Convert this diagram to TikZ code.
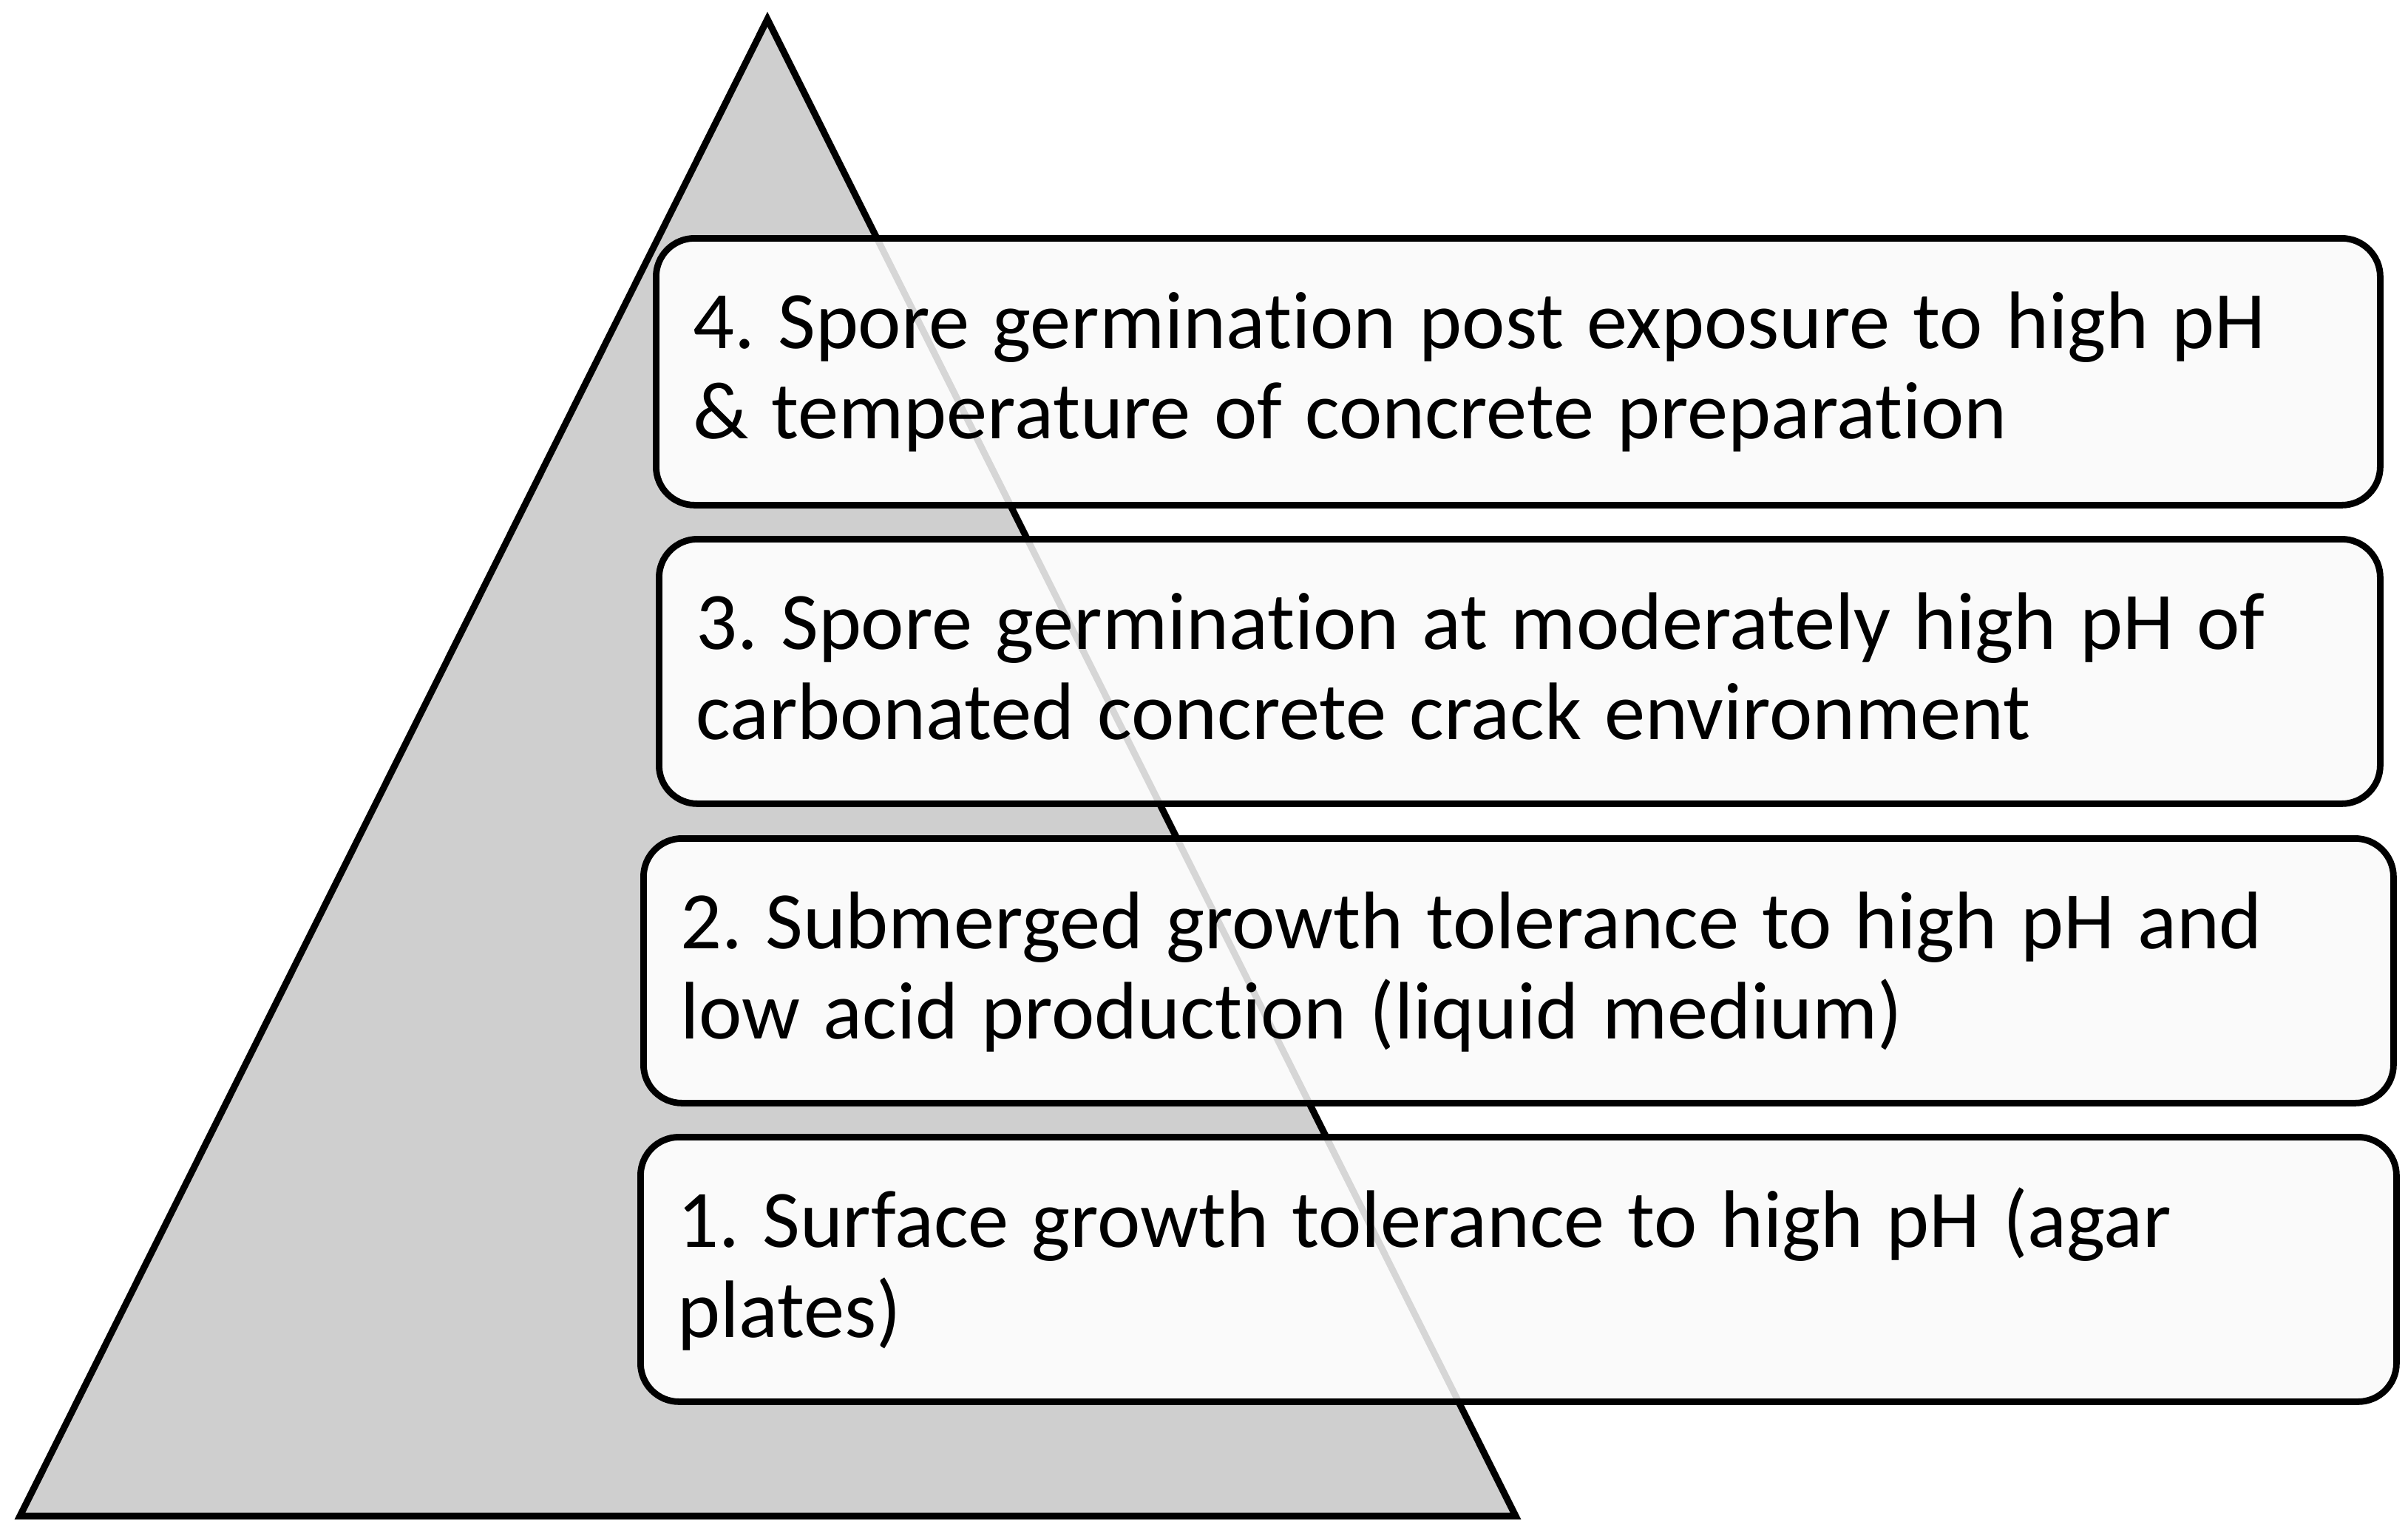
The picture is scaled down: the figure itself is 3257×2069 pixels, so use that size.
\documentclass[tikz,border=0pt]{standalone}
\usepackage{fontspec}
\setmainfont{Carlito}[Ligatures={NoCommon,NoContextual,NoRare}, Contextuals={NoAlternate}]
\frenchspacing
\newcommand\tIsep{t\kern0pt i}
\newcommand\tightwords{\spaceskip=7.8pt\relax}
\begin{document}
\begin{tikzpicture}[x=0.25pt,y=-0.25pt,
  tri/.style={line width=2.25pt, fill=black!19, draw=black, line join=miter},
  ghost/.style={line width=2.25pt, draw=black, draw opacity=0.14, line join=miter},
  levelbox/.style={draw=black, line width=2.2pt, rounded corners=13pt,
    fill=white!98!black,
    anchor=north west, inner xsep=12.5pt, inner ysep=0pt,
    align=left, text height=37.25pt,
    font=\fontsize{27.6pt}{30.6pt}\selectfont,
    execute at begin node=\tightwords}]
\useasboundingbox (0,0) rectangle (3257,2069);
\draw[tri] (1038,26) -- (2050,2051) -- (27,2051) -- cycle;
\node[levelbox, text width=558pt, text depth=53pt] (l4) at (883,318)
  {4. Spore germina\tIsep on post exposure to high pH\\\& temperature of concrete prepara\tIsep on};
\node[levelbox, text width=557pt, text depth=52.25pt] (l3) at (887,725)
  {3. Spore germina\tIsep on at moderately high pH of\\carbonated concrete crack environment};
\node[levelbox, text width=566.75pt, text depth=52.25pt] (l2) at (866,1130)
  {2. Submerged growth tolerance to high pH and\\low acid produc\tIsep on (liquid medium)};
\node[levelbox, text width=568.75pt, text depth=52.25pt] (l1) at (862,1534)
  {1. Surface growth tolerance to high pH (agar\\plates)};
\draw[ghost] (1038,26) -- (2050,2051);
\end{tikzpicture}
\end{document}
